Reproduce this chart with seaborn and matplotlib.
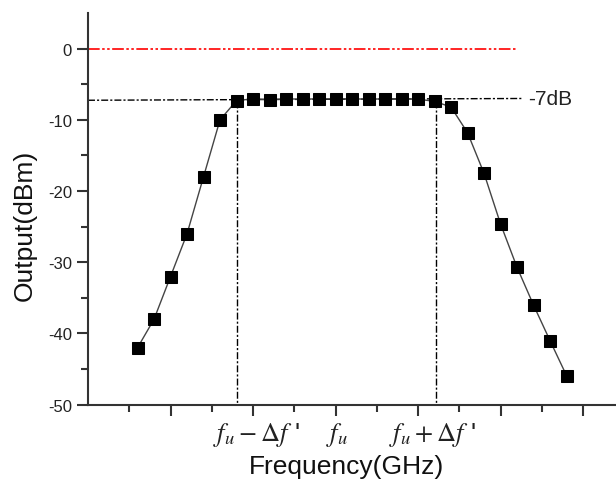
import matplotlib
matplotlib.use("Agg")
import matplotlib.pyplot as plt
import matplotlib.transforms as mtransforms
import numpy as np
import pandas as pd
import seaborn as sns

# ---- data ----
freq = [0.6, 0.8, 1.0, 1.2, 1.4, 1.6, 1.8, 2.0, 2.2, 2.4, 2.6, 2.8, 3.0, 3.2,
        3.4, 3.6, 3.8, 4.0, 4.2, 4.4, 4.6, 4.8, 5.0, 5.2, 5.4, 5.6, 5.8]
output = [-42.0, -38.0, -32.0, -26.0, -18.0, -10.0, -7.3, -7.05, -7.15, -7.05,
          -7.1, -7.05, -7.05, -7.05, -7.1, -7.05, -7.05, -7.1, -7.4, -8.2,
          -11.8, -17.5, -24.6, -30.7, -36.0, -41.0, -45.9]
yticks = [0, -10, -20, -30, -40, -50]
xtick_pos = [2.04, 3.02, 4.17]
xtick_labels = [r"$f_u-\Delta f$ '", r"$f_u$", r"$f_u+\Delta f$ '"]
ref_level = 0.0
band_x = [1.8, 4.22]
band_y = [-7.3, -7.35]
flat_x = [0.0, 5.27]
flat_y = [-7.25, -7.0]
flat_label = "-7dB"

df = pd.DataFrame({"freq": freq, "output": output})

sns.set_style("ticks")
plt.rcParams["font.family"] = ["Liberation Sans", "DejaVu Sans"]
plt.rcParams["mathtext.fontset"] = "stix"

fig = plt.figure(figsize=(6.16, 4.85), dpi=100)
ax = fig.add_axes([0.1429, 0.1635, 0.8571, 0.8076])

axis_col = "#333333"

# reference 0 dBm line
ax.plot([0, 5.19], [ref_level, ref_level], color="#ff0000", lw=1.2,
        dashes=(7, 1.5, 1.5, 1.5, 1.5, 1.5))
# -7dB line
ax.plot(flat_x, flat_y, color="black", lw=1.0, dashes=(5, 1.5, 1.5, 1.5))
# vertical band edges
for bx, by in zip(band_x, band_y):
    ax.plot([bx, bx], [by, -50], color="black", lw=1.0, dashes=(5, 1.5, 1.5, 1.5))

sns.lineplot(data=df, x="freq", y="output", ax=ax, color="#444444", lw=1.0,
             marker="s", markersize=8, markerfacecolor="black",
             markeredgecolor="black", legend=False)

ax.text(5.34, -7.0, flat_label, fontsize=15, va="center", ha="left", color="#222222")

ax.set_xlim(0, 6.4)
ax.set_ylim(-50, 5)
ax.set_yticks(yticks)
ax.set_yticklabels([str(v) for v in yticks], fontsize=12, color="#222222")
ax.set_yticks(np.arange(-45, 5, 10), minor=True)
ax.set_xticks([1, 2, 3, 4, 5, 6])
ax.set_xticklabels([])
ax.set_xticks([0.5, 1.5, 2.5, 3.5, 4.5, 5.5], minor=True)

trans = mtransforms.blended_transform_factory(ax.transData, ax.transAxes)
for xp, lab in zip(xtick_pos, xtick_labels):
    ax.text(xp, -0.075, lab, transform=trans, ha="center", va="center",
            fontsize=19, color="#222222")

ax.set_xlabel("Frequency(GHz)", fontsize=19, color="#111111")
ax.xaxis.set_label_coords(0.4905, -0.125)
ax.set_ylabel("Output(dBm)", fontsize=19, color="#111111")
ax.yaxis.set_label_coords(-0.097, 0.46)

for side in ["top", "right"]:
    ax.spines[side].set_visible(False)
for side in ["left", "bottom"]:
    ax.spines[side].set_color(axis_col)
    ax.spines[side].set_linewidth(1.5)
ax.tick_params(which="major", direction="out", length=8, width=1.5, color=axis_col)
ax.tick_params(which="minor", direction="out", length=5, width=1.5, color=axis_col)

fig.savefig("out.png", dpi=100)
